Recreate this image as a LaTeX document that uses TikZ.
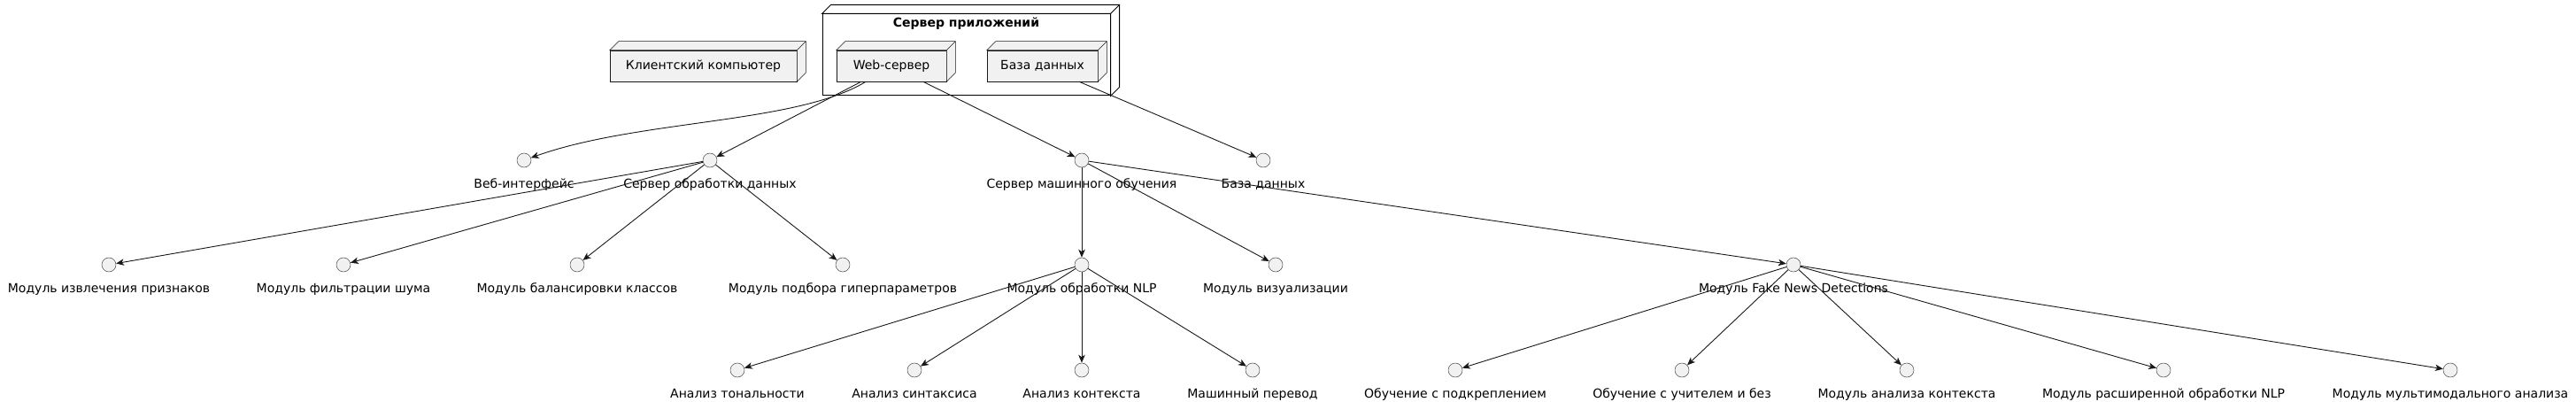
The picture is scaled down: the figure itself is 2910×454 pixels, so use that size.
\documentclass[tikz,border=0pt]{standalone}
\usepackage{fontspec}
\setmainfont{DejaVu Sans}
\usetikzlibrary{positioning,arrows.meta}
\definecolor{boxgray}{HTML}{F1F1F1}
\definecolor{linec}{HTML}{181818}

\begin{document}
\begin{tikzpicture}[x=1pt, y=-1pt,
	box/.style={rectangle, draw=linec, line width=0.5pt, fill=boxgray, minimum height=35pt, inner sep=0pt, font=\fontsize{14}{16}\selectfont},
	outer/.style={rectangle, draw=black, line width=1pt, fill=white, minimum width=325pt, minimum height=92pt},
	iface/.style={circle, draw=linec!80, line width=0.5pt, fill=boxgray, minimum size=16pt, inner sep=0pt},
	lbl/.style={inner sep=0pt, text height=10.5pt, text depth=3pt, font=\fontsize{14}{16}\selectfont},
	conn/.style={draw=linec, line width=0.9pt, -{Stealth[length=9pt, width=7.5pt, inset=2.5pt]}}
	]
	\useasboundingbox (0,0) rectangle (2910,454);

		% top row: deployment nodes
		\node (appsrv) [outer] at (1091.5,62) {};
	\filldraw [line width=1pt, fill=white] (appsrv.north west) -- ++(10,-10) -| ([shift={(10,-10)}]appsrv.south east) -- (appsrv.south east) -- (appsrv.north east) -- cycle;
	\draw [line width=1pt] (appsrv.north east) -- ++(10,-10);
			\node (apptitle) [lbl, below=4.5pt of appsrv.north, font=\fontsize{14}{16}\selectfont\bfseries] {Сервер приложений};
		\node (client) [box, minimum width=211pt] at (794.5,74.5) {Клиентский компьютер};
		\node (websrv) [box, minimum width=124pt] at (1007,74.5) {Web-сервер};
		\node (dbbox) [box, minimum width=125pt] at (1177.5,74.5) {База данных};

	\foreach \b in {client, websrv, dbbox} {
		\filldraw [line width=0.5pt, draw=linec, fill=boxgray] (\b.north west) -- ++(10,-10) -| ([shift={(10,-10)}]\b.south east) -- (\b.south east) -- (\b.north east) -- cycle;
		\draw [line width=0.5pt, draw=linec] (\b.north east) -- ++(10,-10);
	}

		% first row of interfaces
		\node (webui) [iface] at (592,181) {};      \node (webuil) [lbl, below=12.5pt of webui] {Веб-интерфейс};
		\node (dataproc) [iface] at (802,181) {};   \node (dataprocl) [lbl, below=12.5pt of dataproc] {Сервер обработки данных};
		\node (mlsrv) [iface] at (1222,181) {};     \node (mlsrvl) [lbl, below=12.5pt of mlsrv] {Сервер машинного обучения};
		\node (dbif) [iface] at (1427,181) {};      \node (dbifl) [lbl, below=12.5pt of dbif] {База данных};

		% second row
		\node (featext) [iface] at (123,299) {};    \node (featextl) [lbl, below=12.5pt of featext] {Модуль извлечения признаков};
		\node (noise) [iface] at (388,299) {};      \node (noisel) [lbl, below=12.5pt of noise] {Модуль фильтрации шума};
		\node (balance) [iface] at (652,299) {};    \node (balancel) [lbl, below=12.5pt of balance] {Модуль балансировки классов};
		\node (hyper) [iface] at (952,299) {};      \node (hyperl) [lbl, below=12.5pt of hyper] {Модуль подбора гиперпараметров};
		\node (nlp) [iface] at (1222,299) {};       \node (nlpl) [lbl, below=12.5pt of nlp] {Модуль обработки NLP};
		\node (visual) [iface] at (1441,299) {};    \node (visuall) [lbl, below=12.5pt of visual] {Модуль визуализации};
		\node (fakenews) [iface] at (2026,299) {};  \node (fakenewsl) [lbl, below=12.5pt of fakenews] {Модуль Fake News Detections};

		% third row
		\node (tone) [iface] at (833,418) {};       \node (tonel) [lbl, below=12.5pt of tone] {Анализ тональности};
		\node (syntax) [iface] at (1033,418) {};    \node (syntaxl) [lbl, below=12.5pt of syntax] {Анализ синтаксиса};
		\node (context) [iface] at (1222,418) {};   \node (contextl) [lbl, below=12.5pt of context] {Анализ контекста};
		\node (transl) [iface] at (1415,418) {};    \node (transll) [lbl, below=12.5pt of transl] {Машинный перевод};
		\node (reinf) [iface] at (1644,418) {};     \node (reinfl) [lbl, below=12.5pt of reinf] {Обучение с подкреплением};
		\node (superv) [iface] at (1900,418) {};    \node (supervl) [lbl, below=12.5pt of superv] {Обучение с учителем и без};
		\node (ctxmod) [iface] at (2154,418) {};    \node (ctxmodl) [lbl, below=12.5pt of ctxmod] {Модуль анализа контекста};
		\node (extnlp) [iface] at (2444,418) {};    \node (extnlpl) [lbl, below=12.5pt of extnlp] {Модуль расширенной обработки NLP};
		\node (multi) [iface] at (2768,418) {};     \node (multil) [lbl, below=12.5pt of multi] {Модуль мультимодального анализа};

	\draw [conn] (websrv) .. controls (900,140) and (720,135) .. (webui);
	\draw [conn] (websrv) -- (dataproc);
	\draw [conn] (websrv) -- (mlsrv);
	\draw [conn] (dbbox) -- (dbif);

	\draw [conn] (dataproc) -- (featext);
	\draw [conn] (dataproc) -- (noise);
	\draw [conn] (dataproc) -- (balance);
	\draw [conn] (dataproc) -- (hyper);

	\draw [conn] (mlsrv) -- (nlp);
	\draw [conn] (mlsrv) -- (visual);
	\draw [conn] (mlsrv) -- (fakenews);

	\draw [conn] (nlp) -- (tone);
	\draw [conn] (nlp) -- (syntax);
	\draw [conn] (nlp) -- (context);
	\draw [conn] (nlp) -- (transl);

	\draw [conn] (fakenews) -- (reinf);
	\draw [conn] (fakenews) -- (superv);
	\draw [conn] (fakenews) -- (ctxmod);
	\draw [conn] (fakenews) -- (extnlp);
	\draw [conn] (fakenews) -- (multi);

	\end{tikzpicture}
\end{document}
